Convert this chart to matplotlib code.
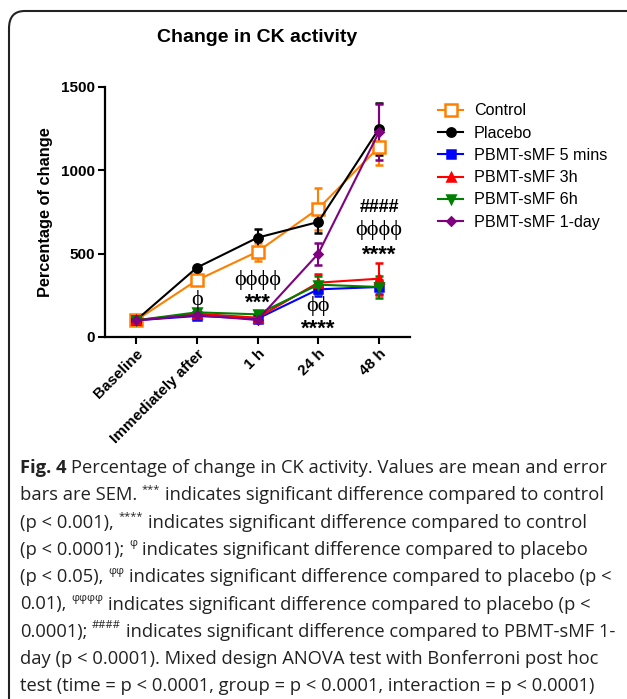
import matplotlib
matplotlib.use("Agg")
import matplotlib.pyplot as plt
from matplotlib.patches import FancyBboxPatch

# data (percentage of change)
timepoints = ["Baseline", "Immediately after", "1 h", "24 h", "48 h"]
control = [100, 340, 512, 770, 1140]
control_err = [0, 0, 55, 125, 110]
placebo = [100, 416, 596, 690, 1250]
placebo_err = [0, 0, 55, 65, 155]
pbmt_5min = [100, 126, 110, 286, 300]
pbmt_5min_err = [0, 0, 0, 40, 40]
pbmt_3h = [100, 140, 116, 326, 350]
pbmt_3h_err = [0, 0, 0, 50, 95]
pbmt_6h = [100, 148, 136, 314, 300]
pbmt_6h_err = [0, 0, 0, 55, 65]
pbmt_1day = [100, 132, 102, 500, 1230]
pbmt_1day_err = [0, 0, 0, 65, 170]

# significance marks: (text, timepoint index, y value, kind)
marks = [
    ("\u03d5", 1, 225, "phi"),
    ("\u03d5\u03d5\u03d5\u03d5", 2, 345, "phi"),
    ("***", 2, 205, "star"),
    ("\u03d5\u03d5", 3, 185, "phi"),
    ("****", 3, 45, "star"),
    ("####", 4, 775, "hash"),
    ("\u03d5\u03d5\u03d5\u03d5", 4, 645, "phi"),
    ("****", 4, 490, "star"),
]

caption = [
    [("Fig. 4", "b"), (" Percentage of change in CK activity. Values are mean and error", "n")],
    [("bars are SEM. ", "n"), ("***", "s"), (" indicates significant difference compared to control", "n")],
    [("(p < 0.001), ", "n"), ("****", "s"), (" indicates significant difference compared to control", "n")],
    [("(p < 0.0001); ", "n"), ("\u03c6", "s"), (" indicates significant difference compared to placebo", "n")],
    [("(p < 0.05), ", "n"), ("\u03c6\u03c6", "s"), (" indicates significant difference compared to placebo (p <", "n")],
    [("0.01), ", "n"), ("\u03c6\u03c6\u03c6\u03c6", "s"), (" indicates significant difference compared to placebo (p <", "n")],
    [("0.0001); ", "n"), ("####", "s"), (" indicates significant difference compared to PBMT-sMF 1-", "n")],
    [("day (p < 0.0001). Mixed design ANOVA test with Bonferroni post hoc", "n")],
    [("test (time = p < 0.0001, group = p < 0.0001, interaction = p < 0.0001)", "n")],
]

W, H = 627, 699
fig = plt.figure(figsize=(W / 100, H / 100), dpi=100)
plt.rcParams['font.family'] = ['Liberation Sans', 'DejaVu Sans']

# rounded frame around the figure panel
frame = FancyBboxPatch((9 / W, -0.05), 1.05, (H - 11) / H + 0.05,
                       boxstyle="round,pad=0,rounding_size=0.025",
                       transform=fig.transFigure, fill=False,
                       edgecolor="#222222", linewidth=1.5, clip_on=False)
fig.patches.append(frame)

ax = fig.add_axes([105 / W, (H - 337) / H, 305 / W, 250 / H])

x = list(range(len(timepoints)))
series = [
    ("Control", control, control_err, "#FF8000", "s", 9, "white"),
    ("Placebo", placebo, placebo_err, "black", "o", 6, "black"),
    ("PBMT-sMF 5 mins", pbmt_5min, pbmt_5min_err, "#0000FF", "s", 6, "#0000FF"),
    ("PBMT-sMF 3h", pbmt_3h, pbmt_3h_err, "#FF0000", "^", 6, "#FF0000"),
    ("PBMT-sMF 6h", pbmt_6h, pbmt_6h_err, "#008000", "v", 6, "#008000"),
    ("PBMT-sMF 1-day", pbmt_1day, pbmt_1day_err, "#800080", "D", 4, "#800080"),
]
handles = []
for name, ys, err, col, mk, ms, fc in series:
    eb = ax.errorbar(x, ys, yerr=err, color=col, marker=mk, markersize=ms,
                     markerfacecolor=fc, markeredgecolor=col, markeredgewidth=1.8,
                     linewidth=1.5, capsize=3, elinewidth=1.5, capthick=1.5,
                     label=name, clip_on=False)
    handles.append(eb[0])

for txt, i, yv, kind in marks:
    if kind == "phi":
        ax.text(i, yv, txt, ha="center", va="center", fontsize=16,
                family=["Liberation Serif", "DejaVu Serif"])
    elif kind == "star":
        ax.text(i, yv, txt, ha="center", va="center", fontsize=16,
                fontweight="bold")
    else:
        ax.text(i, yv, txt, ha="center", va="center", fontsize=13,
                fontweight="bold")

ax.set_xlim(-0.51, 4.51)
ax.set_ylim(0, 1500)
ax.set_yticks([0, 500, 1000, 1500])
ax.set_xticks(x)
ax.set_xticklabels(timepoints, rotation=45, ha="right", rotation_mode="anchor",
                   fontsize=11, fontweight="bold")
for lab in ax.get_yticklabels():
    lab.set_fontweight("bold")
    lab.set_fontsize(11)
ax.tick_params(direction="out", length=5, width=1.5, pad=2)
ax.spines["top"].set_visible(False)
ax.spines["right"].set_visible(False)
ax.spines["left"].set_linewidth(1.6)
ax.spines["bottom"].set_linewidth(1.6)
ax.set_ylabel("Percentage of change", fontsize=11.8, fontweight="bold", labelpad=6)

fig.text(257 / W, 1 - 38 / H, "Change in CK activity", ha="center", va="center",
         fontsize=14, fontweight="bold")

ax.legend(handles, [s[0] for s in series], loc="upper left",
          bbox_to_anchor=(432 / W, 1 - 97 / H),
          bbox_transform=fig.transFigure, frameon=False, fontsize=11.6,
          handlelength=1.5, handletextpad=0.7, labelspacing=0.45,
          borderaxespad=0)

# caption, drawn run by run so superscripts sit inline
renderer = fig.canvas.get_renderer()
cap_font = ["Open Sans", "DejaVu Sans"]
styles = {
    "n": dict(fontsize=13.2, family=cap_font, color="#222222"),
    "b": dict(fontsize=13.2, family=cap_font, fontweight="bold", color="#222222"),
    "s": dict(fontsize=8, family=cap_font, color="#222222"),
}


def width_px(s, st):
    t = fig.text(0, 0, s, **st)
    w = t.get_window_extent(renderer).width
    t.remove()
    return w


space_w = width_px("a a", styles["n"]) - width_px("aa", styles["n"])

y0 = 468
for n, line in enumerate(caption):
    ypx = y0 + n * 27.3
    xpx = 20
    for txt, kind in line:
        st = styles[kind]
        lead = len(txt) - len(txt.lstrip(" "))
        trail = len(txt) - len(txt.rstrip(" "))
        core = txt.strip(" ")
        xpx += lead * space_w
        dy = -6 if kind == "s" else 0
        t = fig.text(xpx / W, 1 - (ypx + dy) / H, core, ha="left", va="center", **st)
        xpx += t.get_window_extent(renderer).width
        xpx += trail * space_w

fig.savefig("out.png", dpi=100)
